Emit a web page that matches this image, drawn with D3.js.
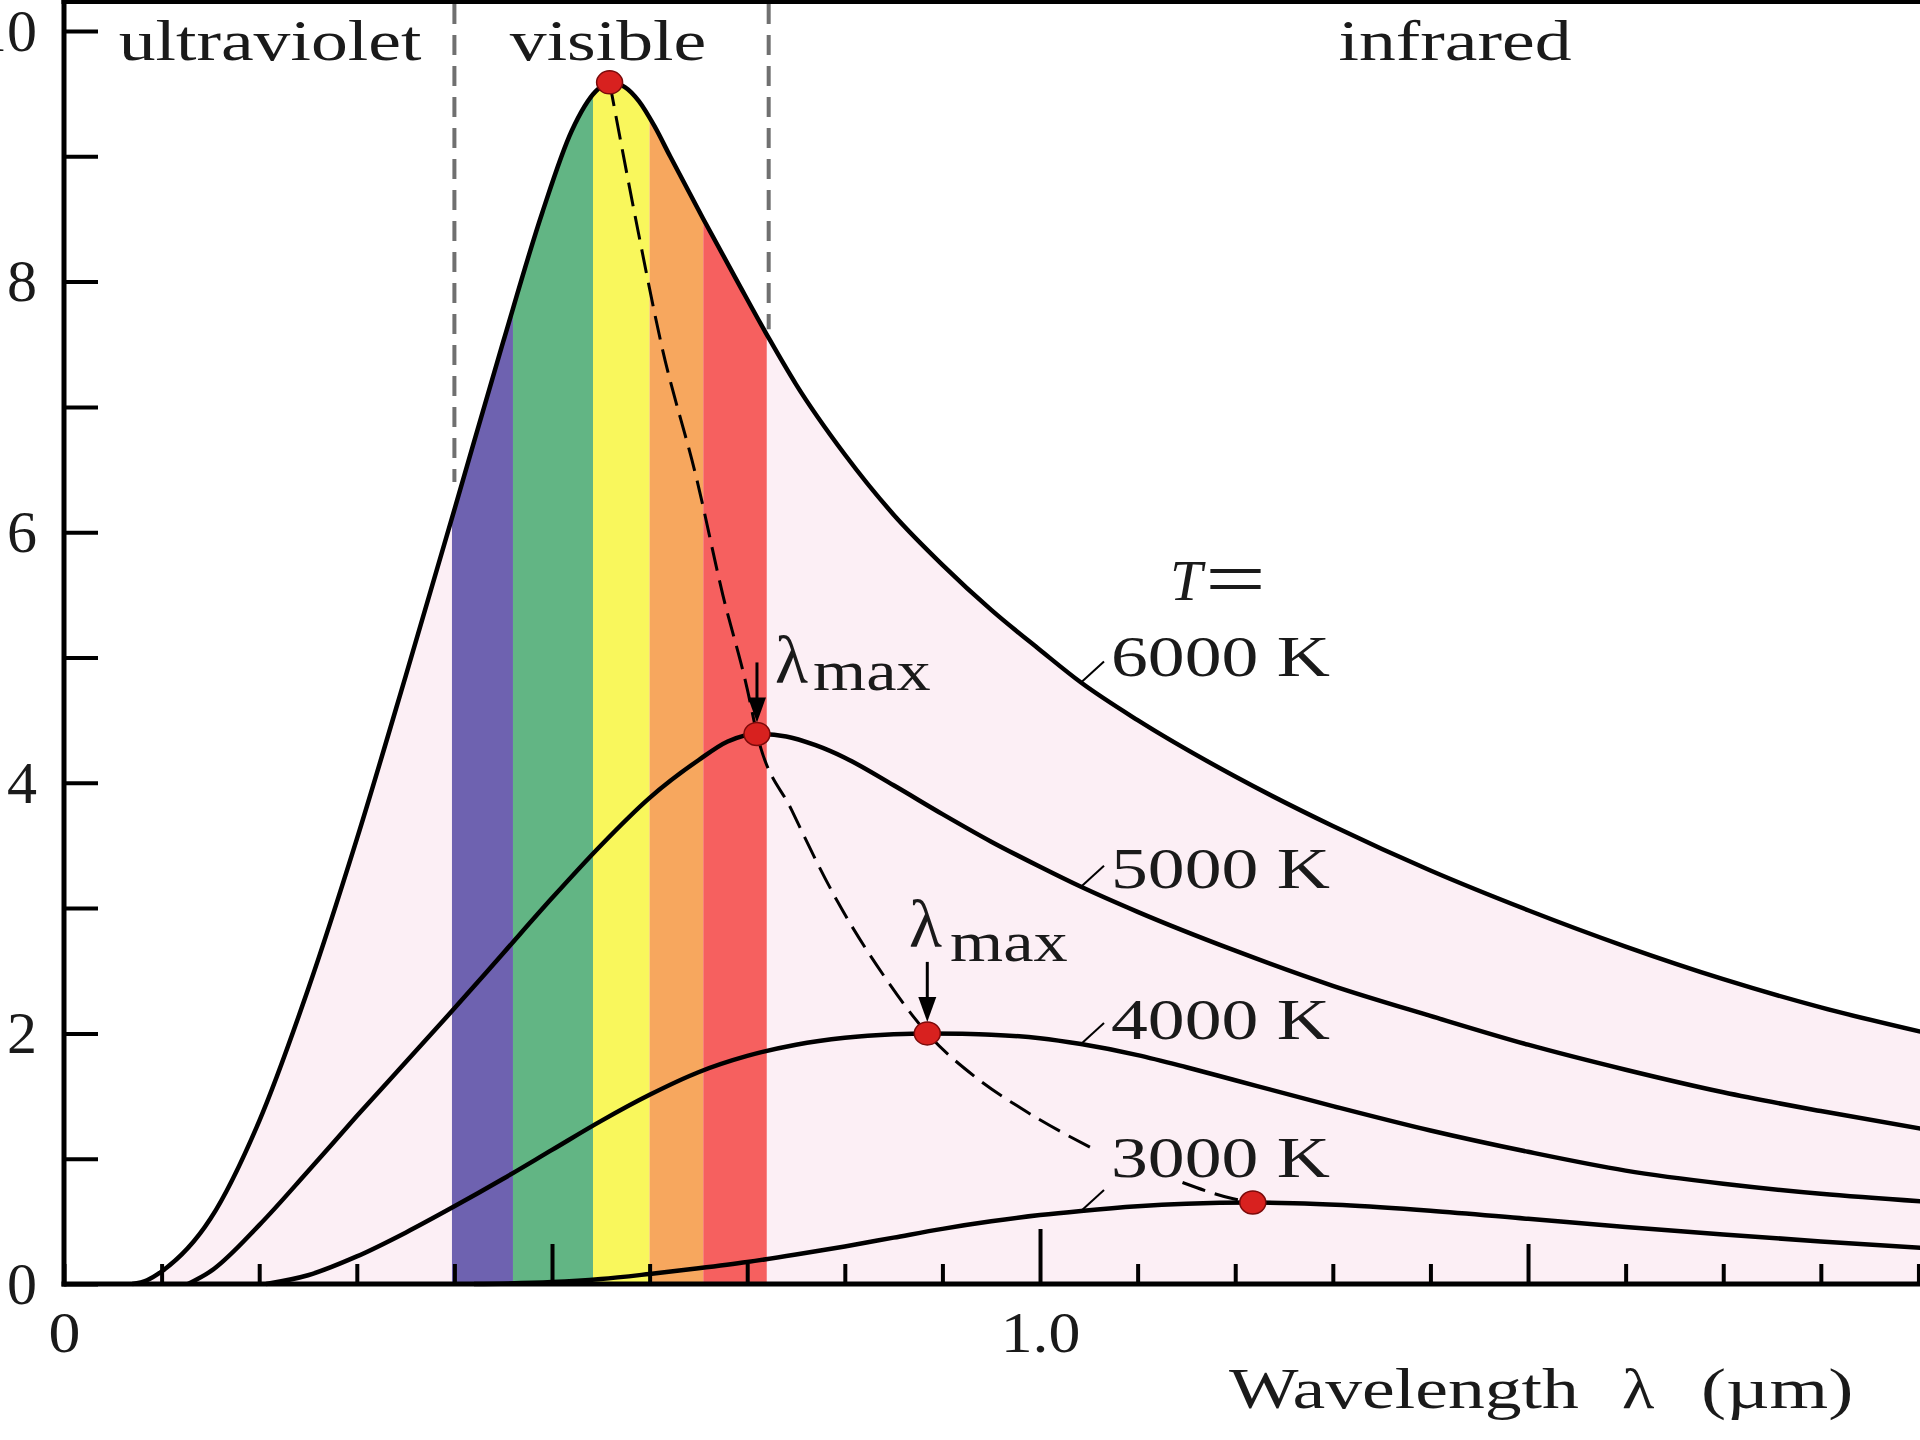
<!DOCTYPE html>
<html>
<head>
<meta charset="utf-8">
<script src="https://cdn.jsdelivr.net/npm/d3@7"></script>
<style>
  html, body { margin: 0; padding: 0; background: #ffffff; }
  svg { display: block; }
  text { font-family: "Liberation Serif", "Times New Roman", serif; fill: #1a1a1a; }
</style>
</head>
<body>
<svg id="chart" width="1920" height="1440"></svg>
<script>
// Blackbody spectral radiance (arbitrary units) against wavelength (µm)
const temperatures = ["6000 K", "5000 K", "4000 K", "3000 K"];

const curve6000 = [
  [0.070, 0], [0.085, 0.03], [0.100, 0.10], [0.150, 0.52], [0.200, 1.30], [0.250, 2.35],
  [0.300, 3.55], [0.350, 4.85], [0.400, 6.18], [0.450, 7.52], [0.490, 8.55], [0.520, 9.20],
  [0.545, 9.52], [0.559, 9.59], [0.575, 9.55], [0.589, 9.44], [0.605, 9.24], [0.621, 9.00],
  [0.655, 8.50], [0.690, 8.00], [0.722, 7.55], [0.750, 7.18], [0.800, 6.62], [0.850, 6.14],
  [0.900, 5.74], [0.950, 5.38], [1.000, 5.06], [1.042, 4.80], [1.100, 4.50], [1.200, 4.05],
  [1.300, 3.655], [1.400, 3.30], [1.500, 2.983], [1.600, 2.693], [1.700, 2.433], [1.800, 2.208],
  [1.902, 2.014]
];
const curve5000 = [
  [0.127, 0], [0.150, 0.10], [0.200, 0.47], [0.250, 0.90], [0.300, 1.34], [0.350, 1.77],
  [0.400, 2.20], [0.450, 2.64], [0.500, 3.08], [0.550, 3.50], [0.600, 3.88], [0.650, 4.18],
  [0.680, 4.33], [0.710, 4.39], [0.740, 4.37], [0.770, 4.30], [0.800, 4.20], [0.850, 3.98],
  [0.900, 3.75], [0.950, 3.53], [1.000, 3.33], [1.042, 3.17], [1.100, 2.97], [1.200, 2.66],
  [1.300, 2.38], [1.400, 2.14], [1.500, 1.91], [1.600, 1.71], [1.700, 1.53], [1.800, 1.38],
  [1.902, 1.24]
];
const curve4000 = [
  [0.207, 0], [0.250, 0.07], [0.300, 0.22], [0.350, 0.41], [0.400, 0.62], [0.450, 0.84],
  [0.500, 1.07], [0.550, 1.30], [0.600, 1.51], [0.650, 1.69], [0.700, 1.82], [0.750, 1.91],
  [0.800, 1.965], [0.850, 1.993], [0.8845, 2.00], [0.920, 1.997], [0.950, 1.99], [1.000, 1.962],
  [1.042, 1.915], [1.100, 1.827], [1.150, 1.73], [1.200, 1.626], [1.300, 1.42], [1.400, 1.225],
  [1.500, 1.055], [1.600, 0.905], [1.700, 0.80], [1.800, 0.72], [1.902, 0.66]
];
const curve3000 = [
  [0.420, 0], [0.500, 0.015], [0.550, 0.04], [0.600, 0.08], [0.650, 0.125], [0.700, 0.175],
  [0.750, 0.235], [0.800, 0.30], [0.850, 0.37], [0.900, 0.44], [0.950, 0.50], [1.000, 0.55],
  [1.042, 0.583], [1.100, 0.62], [1.150, 0.64], [1.218, 0.65], [1.260, 0.645], [1.310, 0.63],
  [1.400, 0.585], [1.500, 0.52], [1.600, 0.455], [1.700, 0.395], [1.800, 0.34], [1.902, 0.29]
];
const curves = [curve6000, curve5000, curve4000, curve3000];

// Peak of each curve (λmax)
const peaks = [[0.559, 9.59], [0.710, 4.39], [0.8845, 2.0], [1.218, 0.65]];

// Dashed locus of the peaks; null marks the break behind the 3000 K label
const peakLocus = [
  [0.559, 9.59], [0.588, 8.41], [0.612, 7.50], [0.649, 6.40], [0.675, 5.50], [0.700, 4.75],
  [0.710, 4.39], [0.7457, 3.78], [0.7927, 3.05], [0.840, 2.46], [0.8845, 2.0], [0.934, 1.65],
  [0.981, 1.40], [1.0565, 1.07], null, [1.146, 0.81], [1.198, 0.68], [1.218, 0.65]
];

// Visible spectrum bands (µm)
const bandEdges = [0.3975, 0.460, 0.542, 0.600, 0.655, 0.720];
const bandColors = ["#6e62b0", "#62b584", "#f9f75c", "#f7a75e", "#f6605f"];

// Region boundaries (µm) and the height where each dashed boundary stops
const regionBounds = [0.40, 0.722];
const regionBoundEnds = [6.4, 7.62];
const regionNames = ["ultraviolet", "visible", "infrared"];

// Axis ticks
const yTickValues = [0, 1, 2, 3, 4, 5, 6, 7, 8, 9, 10];
const yTickLabels = ["0", "", "2", "", "4", "", "6", "", "8", "", "10"];
const xTickValues = d3.range(0, 20).map(i => i / 10);
const xTickLabels = { 0: "0", 1: "1.0" };
const xMajorTicks = [0.5, 1.5];
const xCentralTick = 1.0;
const xAxisTitle = ["Wavelength", "λ", "(µm)"];

// Temperature labels hang off each curve at this wavelength
const labelAnchorX = 1.042;

// ---------------------------------------------------------------
const svg = d3.select("#chart");
const x = d3.scaleLinear().domain([0, 1.9016]).range([64, 1920]);
const y = d3.scaleLinear().domain([0, 10]).range([1284, 31]);

const line = d3.line()
  .defined(d => d !== null)
  .x(d => x(d[0])).y(d => y(d[1]))
  .curve(d3.curveMonotoneX);
const area = d3.area()
  .x(d => x(d[0])).y0(y(0)).y1(d => y(d[1]))
  .curve(d3.curveMonotoneX);

// Clip region: everything under the hottest curve
svg.append("defs").append("clipPath").attr("id", "under-hottest")
  .append("path").attr("d", area(curve6000));

// Pale fill under the 6000 K curve
svg.append("path").attr("d", area(curve6000)).attr("fill", "#fceff5");

// Colour bands of the visible spectrum
svg.append("g").attr("clip-path", "url(#under-hottest)")
  .selectAll("rect").data(bandColors).join("rect")
  .attr("x", (c, i) => x(bandEdges[i]))
  .attr("width", (c, i) => x(bandEdges[i + 1]) - x(bandEdges[i]))
  .attr("y", 0).attr("height", y(0))
  .attr("fill", c => c);

// Dashed region boundaries
svg.append("g").selectAll("line").data(regionBounds).join("line")
  .attr("x1", d => x(d)).attr("x2", d => x(d))
  .attr("y1", 4).attr("y2", (d, i) => y(regionBoundEnds[i]))
  .attr("stroke", "#707070").attr("stroke-width", 4)
  .attr("stroke-dasharray", "20 11");

// Radiance curves
svg.append("g").selectAll("path").data(curves).join("path")
  .attr("d", d => line(d))
  .attr("fill", "none").attr("stroke", "#000").attr("stroke-width", 4.5)
  .attr("stroke-linejoin", "round");

// Peak locus
svg.append("path").attr("d", line(peakLocus))
  .attr("fill", "none").attr("stroke", "#000").attr("stroke-width", 3)
  .attr("stroke-dasharray", "24 10");

// λmax arrows onto the 5000 K and 4000 K peaks
const dotRy = 11.5;
const arrowPeaks = [peaks[1], peaks[2]];
const arrows = svg.append("g");
arrowPeaks.forEach(p => {
  const px = x(p[0]), tip = y(p[1]) - dotRy;
  arrows.append("line").attr("x1", px).attr("x2", px)
    .attr("y1", tip - 60).attr("y2", tip - 18)
    .attr("stroke", "#000").attr("stroke-width", 3);
  arrows.append("path")
    .attr("d", `M${px},${tip} L${px - 9},${tip - 25} L${px + 9},${tip - 25} Z`)
    .attr("fill", "#000");
});

// Peak markers
svg.append("g").selectAll("ellipse").data(peaks).join("ellipse")
  .attr("cx", d => x(d[0])).attr("cy", d => y(d[1]))
  .attr("rx", 13).attr("ry", dotRy)
  .attr("fill", "#d8211f").attr("stroke", "#7a0a0a").attr("stroke-width", 1.5);

// Axes
const xAxis = d3.axisBottom(x).tickValues(xTickValues).tickSize(-20)
  .tickFormat(d => xTickLabels[d] || "");
const gx = svg.append("g").attr("transform", `translate(0,${y(0)})`).call(xAxis);
gx.select(".domain").remove();
gx.selectAll(".tick line").attr("stroke", "#000").attr("stroke-width", 4)
  .attr("y2", d => d === xCentralTick ? -55 : (xMajorTicks.includes(d) ? -40 : -20));
gx.selectAll(".tick text")
  .attr("fill", "#1a1a1a").attr("font-size", 58)
  .attr("font-family", "Liberation Serif, Times New Roman, serif")
  .attr("y", 68).attr("dy", 0).attr("transform", "scale(1.1,1)");

const yAxis = d3.axisLeft(y).tickValues(yTickValues).tickSize(-34).tickPadding(27)
  .tickFormat((d, i) => yTickLabels[i]);
const gy = svg.append("g").attr("transform", `translate(${x(0)},0)`).call(yAxis);
gy.select(".domain").remove();
gy.selectAll(".tick line").attr("stroke", "#000").attr("stroke-width", 4);
gy.selectAll(".tick text")
  .attr("fill", "#1a1a1a").attr("font-size", 60)
  .attr("font-family", "Liberation Serif, Times New Roman, serif");

// Frame lines: left axis, bottom axis, top edge
svg.append("line").attr("x1", x(0)).attr("x2", x(0)).attr("y1", 0).attr("y2", y(0) + 2.5)
  .attr("stroke", "#000").attr("stroke-width", 5);
svg.append("line").attr("x1", x(0) - 2.5).attr("x2", 1920).attr("y1", y(0)).attr("y2", y(0))
  .attr("stroke", "#000").attr("stroke-width", 5);
svg.append("line").attr("x1", x(0) - 2.5).attr("x2", 1920).attr("y1", 2).attr("y2", 2)
  .attr("stroke", "#000").attr("stroke-width", 4);

// Text helper: horizontally widened serif text
function word(tx, ty, str, opts = {}) {
  const t = svg.append("text")
    .attr("transform", `translate(${tx},${ty}) scale(${opts.sx || 1.27},${opts.sy || 1})`)
    .attr("font-size", opts.size || 58)
    .attr("text-anchor", opts.anchor || "start")
    .text(str);
  if (opts.italic) t.attr("font-style", "italic");
  return t;
}

// Region names along the top
const regionCenters = [270, 608, 1455];
regionNames.forEach((n, i) => word(regionCenters[i], 60, n, { anchor: "middle" }));

// Temperature labels with short leader lines
svg.append("g").selectAll("line").data(curves).join("line")
  .attr("x1", d => x(labelAnchorX))
  .attr("y1", d => y(d.find(p => p[0] === labelAnchorX)[1]))
  .attr("x2", d => x(labelAnchorX) + 23)
  .attr("y2", d => y(d.find(p => p[0] === labelAnchorX)[1]) - 21)
  .attr("stroke", "#000").attr("stroke-width", 2);
const labelBaselines = [676, 888, 1039, 1177];
temperatures.forEach((t, i) => word(1111, labelBaselines[i], t));
word(1170, 600, "T", { italic: true, sx: 1.0 });
word(1205, 606, "=", { size: 80, sx: 1.35 });

// λmax annotations
const lambdaNotes = [
  { lx: 775, ly: 683, mx: 813, my: 690 },
  { lx: 909, ly: 947, mx: 950, my: 961 }
];
lambdaNotes.forEach(n => {
  word(n.lx, n.ly, "λ", { size: 68, sx: 1.0 });
  word(n.mx, n.my, "max", { size: 56, sx: 1.22 });
});

// x-axis title
word(1229, 1408, xAxisTitle[0]);
word(1622, 1408, xAxisTitle[1], { sx: 1.15 });
word(1701, 1408, xAxisTitle[2], { sx: 1.3 });
</script>
</body>
</html>
